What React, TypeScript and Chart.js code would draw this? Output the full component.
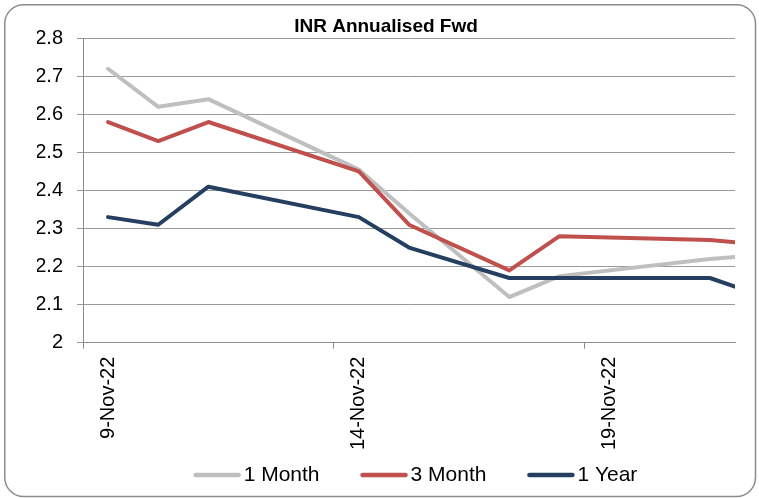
import React, { useEffect, useRef } from 'react';
import { Chart, registerables } from 'chart.js';

Chart.register(...registerables);

// ---- Data (November 2022 trading days) ----
const dayNumbers = [9, 10, 11, 14, 15, 17, 18, 21, 22];
const oneMonth = [2.72, 2.62, 2.64, 2.455, 2.34, 2.12, 2.175, 2.22, 2.23];
const threeMonth = [2.58, 2.53, 2.58, 2.45, 2.31, 2.19, 2.28, 2.27, 2.258];
const oneYear = [2.33, 2.31, 2.41, 2.33, 2.25, 2.17, 2.17, 2.17, 2.125];
const seriesNames = ['1 Month', '3 Month', '1 Year'];
const seriesColors = ['#bfbfbf', '#c0504d', '#253f61'];
const tickDays = [9, 14, 19];
const tickLabels = ['9-Nov-22', '14-Nov-22', '19-Nov-22'];
const chartTitle = 'INR Annualised Fwd';
const firstDay = 9;
const lastDay = 21;
const yMin = 2;
const yMax = 2.8;
const yStep = 0.1;

const FONT = '"Liberation Sans", Arial, sans-serif';
const GRID = '#9a9a9a';
const AXIS = '#8c8c8c';

const framePlugin = {
  id: 'frame',
  beforeDraw(chart: any) {
    const ctx = chart.ctx;
    ctx.save();
    ctx.fillStyle = '#ffffff';
    ctx.fillRect(0, 0, chart.width, chart.height);
    ctx.beginPath();
    ctx.roundRect(4.75, 4.75, chart.width - 3.5 - 4.75, chart.height - 1.5 - 4.75, 19);
    ctx.strokeStyle = '#8c8c8c';
    ctx.lineWidth = 1.5;
    ctx.stroke();
    ctx.restore();
  },
};

const legendPlugin = {
  id: 'lineLegend',
  afterDraw(chart: any) {
    const ctx = chart.ctx;
    ctx.save();
    ctx.font = `21px ${FONT}`;
    const swatch = 47;
    const gap = 3;
    const spacing = 41;
    const items = seriesNames.map((name, i) => ({
      label: name,
      color: seriesColors[i],
      w: ctx.measureText(name).width,
    }));
    const total =
      items.reduce((s, it) => s + swatch + gap + it.w, 0) + spacing * (items.length - 1);
    const cx = (chart.chartArea.left + chart.chartArea.right) / 2 + 6.5;
    let x = cx - total / 2;
    const y = chart.height - 23;
    for (const it of items) {
      ctx.beginPath();
      ctx.moveTo(x + 2, y);
      ctx.lineTo(x + swatch - 2, y);
      ctx.strokeStyle = it.color;
      ctx.lineWidth = 4.5;
      ctx.lineCap = 'round';
      ctx.stroke();
      ctx.fillStyle = '#000';
      ctx.textAlign = 'left';
      ctx.textBaseline = 'middle';
      ctx.fillText(it.label, x + swatch + gap, y);
      x += swatch + gap + it.w + spacing;
    }
    ctx.restore();
  },
};

export default function App() {
  const ref = useRef<HTMLCanvasElement | null>(null);

  useEffect(() => {
    if (!ref.current) return;
    const seriesData = [oneMonth, threeMonth, oneYear];
    const chart = new Chart(ref.current, {
      type: 'line',
      data: {
        datasets: seriesNames.map((name, i) => ({
          label: name,
          data: dayNumbers.map((d, j) => ({ x: d, y: seriesData[i][j] })),
          borderColor: seriesColors[i],
          backgroundColor: seriesColors[i],
          borderWidth: 4,
          pointRadius: 0,
          pointHoverRadius: 0,
          tension: 0,
          borderJoinStyle: 'round',
          borderCapStyle: 'round',
          fill: false,
          order: seriesNames.length - i,
        })),
      },
      options: {
        responsive: false,
        animation: false,
        events: [],
        layout: { padding: { left: 37, right: 24, top: 0, bottom: 48 } },
        plugins: {
          legend: { display: false },
          tooltip: { enabled: false },
          title: {
            display: true,
            text: chartTitle,
            color: '#000',
            font: { family: FONT, size: 19, weight: 'bold' },
            padding: { top: 15, bottom: 0.5 },
          },
        },
        scales: {
          x: {
            type: 'linear',
            min: firstDay - 0.5,
            max: lastDay + 0.5,
            afterBuildTicks(scale: any) {
              scale.ticks = tickDays.map((d) => ({ value: d - 0.5 }));
            },
            afterFit(scale: any) {
              scale.height = 107.3;
            },
            border: { display: true, color: AXIS, width: 1 },
            grid: {
              drawOnChartArea: false,
              drawTicks: true,
              tickLength: 6,
              color: AXIS,
            },
            ticks: {
              autoSkip: false,
              minRotation: 90,
              maxRotation: 90,
              padding: 8,
              labelOffset: 25,
              color: '#000',
              font: { family: FONT, size: 20 },
              callback(value: any) {
                const idx = tickDays.findIndex((d) => Math.abs(d - 0.5 - value) < 1e-6);
                return idx >= 0 ? tickLabels[idx] : '';
              },
            },
          },
          y: {
            min: yMin,
            max: yMax,
            afterFit(scale: any) {
              scale.width = 46;
            },
            border: { display: true, color: AXIS, width: 1 },
            grid: {
              color: GRID,
              lineWidth: 1,
              drawTicks: true,
              tickLength: 6,
            },
            ticks: {
              stepSize: yStep,
              padding: 14,
              color: '#000',
              font: { family: FONT, size: 20 },
              callback(value: any) {
                return String(Number(Number(value).toFixed(1)));
              },
            },
          },
        },
      },
      plugins: [framePlugin, legendPlugin],
    } as any);
    return () => chart.destroy();
  }, []);

  return (
    <div style={{ position: 'absolute', left: 0, top: 0, width: 759, height: 498 }}>
      <canvas ref={ref} width={759} height={498} style={{ display: 'block' }} />
    </div>
  );
}
